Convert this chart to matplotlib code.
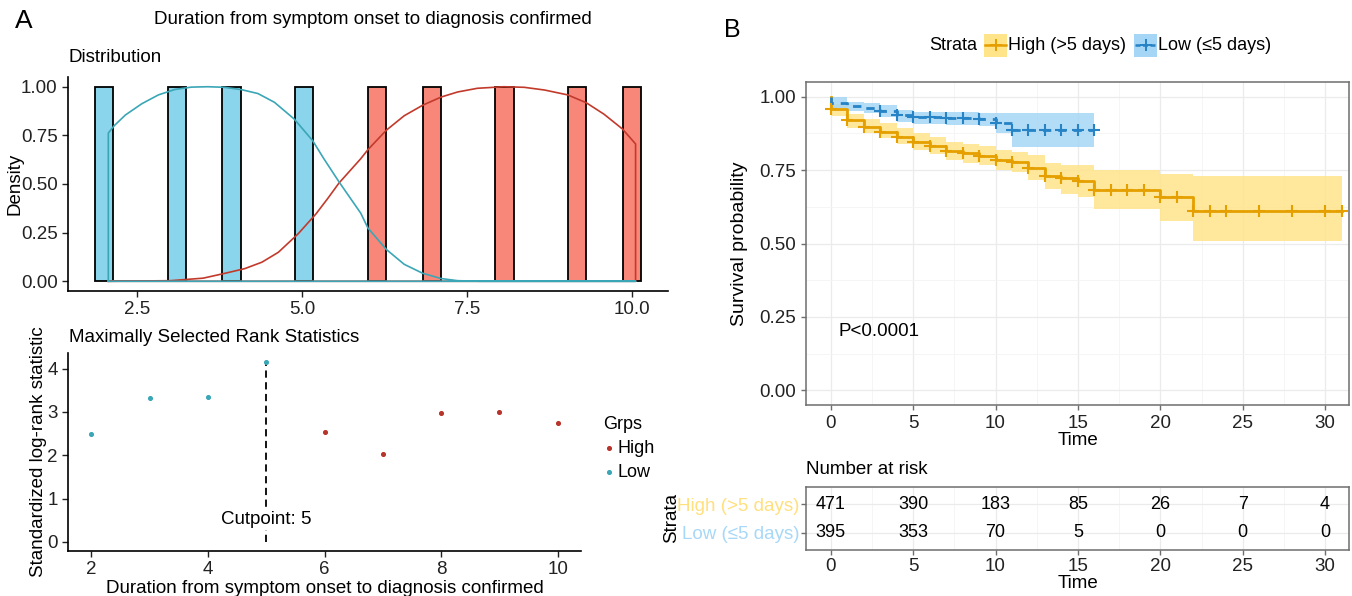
import numpy as np
import matplotlib
matplotlib.use("Agg")
import matplotlib.pyplot as plt
from matplotlib.patches import Rectangle
from matplotlib.lines import Line2D

plt.rcParams["font.family"] = ["Liberation Sans", "DejaVu Sans"]

# ---------------- data: panel A, distribution ----------------
bar_centers_low = [2.0, 3.10, 3.93, 5.03]
bar_centers_high = [6.14, 6.97, 8.07, 9.17, 10.0]
bar_height = [1.0]
bin_width = 0.276

low_dens_x = [2.06, 2.06, 2.15, 2.32, 2.57, 2.82, 3.07, 3.32, 3.57, 3.82, 4.08, 4.33,
              4.58, 4.88, 5.16, 5.33, 5.56, 5.89, 6.0, 6.28, 6.55, 6.83, 7.11, 7.36,
              7.7, 10.06, 2.06]
low_dens_y = [0.0, 0.762, 0.80, 0.855, 0.913, 0.958, 0.986, 0.998, 1.0, 0.997, 0.985,
              0.965, 0.92, 0.834, 0.723, 0.63, 0.511, 0.35, 0.273, 0.163, 0.087, 0.041,
              0.014, 0.003, 0.0, 0.0, 0.0]
high_dens_x = [2.06, 3.0, 3.5, 3.83, 4.13, 4.39, 4.64, 4.94, 5.21, 5.39, 5.56, 5.89,
               6.0, 6.28, 6.55, 6.83, 7.11, 7.36, 7.66, 8.06, 8.37, 8.68, 9.03, 9.31,
               9.58, 9.86, 10.06, 10.06, 2.06]
high_dens_y = [0.0, 0.003, 0.016, 0.041, 0.065, 0.098, 0.149, 0.244, 0.346, 0.426, 0.505,
               0.63, 0.677, 0.777, 0.851, 0.905, 0.947, 0.973, 0.992, 1.0, 0.997, 0.983,
               0.958, 0.918, 0.859, 0.783, 0.706, 0.0, 0.0]

# ---------------- data: panel A, maxstat ----------------
cut_x = [2, 3, 4, 5, 6, 7, 8, 9, 10]
cut_stat = [2.48, 3.32, 3.34, 4.15, 2.53, 2.02, 2.97, 2.99, 2.74]
cut_grp = ["Low", "Low", "Low", "Low", "High", "High", "High", "High", "High"]
cutpoint = 5

# ---------------- data: panel B, Kaplan-Meier ----------------
high_t = [0, 0, 1, 2, 3, 4, 5, 6, 7, 8, 9, 10, 11, 12, 13, 14, 15, 16, 20, 22, 31]
high_s = [1.0, 0.957, 0.920, 0.898, 0.881, 0.864, 0.847, 0.832, 0.815, 0.807, 0.798,
          0.786, 0.778, 0.756, 0.730, 0.722, 0.712, 0.682, 0.657, 0.611, 0.611]
high_up = [1.0, 0.975, 0.942, 0.923, 0.909, 0.892, 0.875, 0.864, 0.847, 0.839, 0.832,
           0.820, 0.812, 0.801, 0.773, 0.767, 0.767, 0.750, 0.736, 0.730, 0.730]
high_lo = [1.0, 0.935, 0.895, 0.875, 0.858, 0.839, 0.820, 0.805, 0.786, 0.775, 0.767,
           0.752, 0.744, 0.716, 0.684, 0.670, 0.659, 0.619, 0.577, 0.509, 0.509]
high_cens = list(range(0, 25)) + [26, 28, 30, 31]

low_t = [0, 0, 1, 2, 3, 4, 5, 7, 9, 10, 11, 16]
low_s = [1.0, 0.977, 0.968, 0.961, 0.952, 0.937, 0.932, 0.928, 0.925, 0.912, 0.888, 0.888]
low_up = [1.0, 1.0, 0.982, 0.978, 0.972, 0.955, 0.949, 0.947, 0.946, 0.945, 0.943, 0.943]
low_lo = [1.0, 0.962, 0.950, 0.943, 0.930, 0.915, 0.908, 0.904, 0.900, 0.875, 0.830, 0.830]
low_cens = list(range(3, 17))

risk_times = [0, 5, 10, 15, 20, 25, 30]
risk_high = [471, 390, 183, 85, 26, 7, 4]
risk_low = [395, 353, 70, 5, 0, 0, 0]

# ---------------- colours ----------------
C_LOW_BAR, C_HIGH_BAR = "#8AD4EC", "#F8877A"
C_LOW_LINE, C_HIGH_LINE = "#3AA6B6", "#C23A2B"
C_HIGH_KM, C_LOW_KM = "#E5A000", "#2683C6"
F_HIGH_KM, F_LOW_KM = "#FFE48A", "#A6D6F6"

W, H = 1352, 596
fig = plt.figure(figsize=(W / 100, H / 100), dpi=100)


def ax_at(x0, y0, x1, y1):
    return fig.add_axes([x0 / W, 1 - y1 / H, (x1 - x0) / W, (y1 - y0) / H])


def classic(ax):
    for s in ["top", "right"]:
        ax.spines[s].set_visible(False)
    for s in ["left", "bottom"]:
        ax.spines[s].set_linewidth(1.2)
    ax.tick_params(labelsize=13.5, length=4, width=1.0, colors="#222222")


# ---- A top: distribution ----
ax1 = ax_at(68, 77, 668, 291)
ax1.bar(bar_centers_low, bar_height * len(bar_centers_low), width=bin_width,
        color=C_LOW_BAR, edgecolor="black", linewidth=1.3, zorder=2)
ax1.bar(bar_centers_high, bar_height * len(bar_centers_high), width=bin_width,
        color=C_HIGH_BAR, edgecolor="black", linewidth=1.3, zorder=2)
ax1.plot(high_dens_x, high_dens_y, color=C_HIGH_LINE, lw=1.2, zorder=3)
ax1.plot(low_dens_x, low_dens_y, color=C_LOW_LINE, lw=1.2, zorder=4)
ax1.set_xlim(1.448, 10.552)
ax1.set_ylim(-0.05, 1.05)
ax1.set_xticks([2.5, 5.0, 7.5, 10.0])
ax1.set_xticklabels(["2.5", "5.0", "7.5", "10.0"])
ax1.set_yticks([0, 0.25, 0.5, 0.75, 1.0])
ax1.set_yticklabels(["0.00", "0.25", "0.50", "0.75", "1.00"])
ax1.set_ylabel("Density", fontsize=13.5, labelpad=-2)
classic(ax1)

# ---- A bottom: maxstat ----
ax2 = ax_at(68, 353, 581, 551)
xs_h = [x for x, g in zip(cut_x, cut_grp) if g == "High"]
ys_h = [y for y, g in zip(cut_stat, cut_grp) if g == "High"]
xs_l = [x for x, g in zip(cut_x, cut_grp) if g == "Low"]
ys_l = [y for y, g in zip(cut_stat, cut_grp) if g == "Low"]
ax2.scatter(xs_h, ys_h, s=7, color="#B8342A", label="High", zorder=3)
ax2.scatter(xs_l, ys_l, s=7, color=C_LOW_LINE, label="Low", zorder=3)
ax2.vlines(cutpoint, 0, max(cut_stat), colors="black", linestyles=(0, (4, 2.5)), lw=1.3)
ax2.text(cutpoint, 0.52, "Cutpoint: 5", ha="center", va="center", fontsize=13.5,
         bbox=dict(facecolor="white", edgecolor="none", pad=1.5), zorder=4)
ax2.set_xlim(1.6, 10.4)
ax2.set_ylim(-0.21, 4.36)
ax2.set_xticks([2, 4, 6, 8, 10])
ax2.set_yticks([0, 1, 2, 3, 4])
ax2.set_xlabel("Duration from symptom onset to diagnosis confirmed", fontsize=13.5, labelpad=1)
ax2.set_ylabel("Standardized log-rank statistic", fontsize=13.5, labelpad=0)
classic(ax2)
leg = ax2.legend(title="Grps", loc="upper left", bbox_to_anchor=(1.03, 0.72),
                 frameon=False, fontsize=13, title_fontsize=13, handletextpad=0.15,
                 handlelength=0.6, markerscale=1.0, labelspacing=0.4, borderaxespad=0)
leg._legend_box.align = "left"

fig.text(24 / W, 1 - 21 / H, "A", fontsize=19, ha="center", va="center")
fig.text(373 / W, 1 - 20 / H, "Duration from symptom onset to diagnosis confirmed",
         fontsize=13.5, ha="center", va="center")
fig.text(69 / W, 1 - 58 / H, "Distribution", fontsize=13.5, ha="left", va="center")
fig.text(69 / W, 1 - 337 / H, "Maximally Selected Rank Statistics", fontsize=13.5,
         ha="left", va="center")


# ---- B: Kaplan-Meier ----
def surv_at(t, times, surv):
    i = np.searchsorted(times, t, side="right") - 1
    return np.asarray(surv)[i]


BORDER = "#6E6E6E"
axB = ax_at(806, 82, 1349, 405)
axB.fill_between(high_t, high_lo, high_up, step="post", color=F_HIGH_KM, alpha=0.85,
                 lw=0, zorder=1)
axB.fill_between(low_t, low_lo, low_up, step="post", color=F_LOW_KM, alpha=0.85,
                 lw=0, zorder=1)
axB.step(high_t, high_s, where="post", color=C_HIGH_KM, lw=2.0, zorder=3)
axB.step(low_t, low_s, where="post", color=C_LOW_KM, lw=2.0, ls=(0, (3, 2.5)), zorder=3)
axB.plot(high_cens, surv_at(high_cens, high_t, high_s), "+", color=C_HIGH_KM, ms=8,
         mew=1.5, zorder=4)
axB.plot(low_cens, surv_at(low_cens, low_t, low_s), "+", color=C_LOW_KM, ms=8,
         mew=1.5, zorder=4)
axB.text(0.45, 0.20, "P<0.0001", fontsize=13.5, ha="left", va="center")
axB.set_xlim(-1.5, 31.45)
axB.set_ylim(-0.05, 1.05)
axB.set_xticks(risk_times)
axB.set_xticks(np.arange(2.5, 31, 5), minor=True)
axB.set_yticks([0, 0.25, 0.5, 0.75, 1.0])
axB.set_yticks([0.125, 0.375, 0.625, 0.875], minor=True)
axB.set_yticklabels(["0.00", "0.25", "0.50", "0.75", "1.00"])
axB.grid(which="major", color="#EBEBEB", lw=0.9, zorder=0)
axB.grid(which="minor", color="#F4F4F4", lw=0.6, zorder=0)
axB.set_axisbelow(True)
axB.set_xlabel("Time", fontsize=13.5, labelpad=0)
axB.set_ylabel("Survival probability", fontsize=14, labelpad=8)
for s in axB.spines.values():
    s.set_color(BORDER)
    s.set_linewidth(1.1)
axB.tick_params(which="major", labelsize=13.5, length=3.5, width=1.0, color=BORDER,
                labelcolor="#222222")
axB.tick_params(which="minor", length=0)

fig.text(732 / W, 1 - 30 / H, "B", fontsize=18, ha="center", va="center")

# legend drawn on top of panel B
ly = 1 - 45 / H
fig.text(929 / W, ly, "Strata", fontsize=13, ha="left", va="center")
for x0, fc, lc, ls, lab in [(984, F_HIGH_KM, C_HIGH_KM, "-", "High (>5 days)"),
                            (1134, F_LOW_KM, C_LOW_KM, (0, (2, 1)), "Low (\u22645 days)")]:
    fig.patches.append(Rectangle((x0 / W, 1 - 57 / H), 23 / W, 23 / H, transform=fig.transFigure,
                                 facecolor=fc, edgecolor="none"))
    fig.lines.append(Line2D([(x0 + 1) / W, (x0 + 22) / W], [ly, ly], transform=fig.transFigure,
                            color=lc, lw=1.8, ls=ls))
    fig.lines.append(Line2D([(x0 + 11.5) / W], [ly], transform=fig.transFigure, marker="+",
                            ms=8, mew=1.4, color=lc))
    fig.text((x0 + 24) / W, ly, lab, fontsize=13, ha="left", va="center")

# ---- B: risk table ----
axT = ax_at(806, 487, 1349, 550)
for t, n in zip(risk_times, risk_high):
    axT.text(t, 2, str(n), ha="center", va="center", fontsize=13)
for t, n in zip(risk_times, risk_low):
    axT.text(t, 1, str(n), ha="center", va="center", fontsize=13)
axT.set_xlim(-1.5, 31.45)
axT.set_ylim(0.4, 2.6)
axT.set_xticks(risk_times)
axT.set_xticks(np.arange(2.5, 31, 5), minor=True)
axT.set_yticks([1, 2])
axT.set_yticklabels(["Low (\u22645 days)", "High (>5 days)"])
axT.grid(which="major", axis="both", color="#EBEBEB", lw=0.9)
axT.grid(which="minor", axis="x", color="#F4F4F4", lw=0.6)
axT.set_axisbelow(True)
for s in axT.spines.values():
    s.set_color(BORDER)
    s.set_linewidth(1.1)
axT.tick_params(which="major", labelsize=13.5, length=3.5, width=1.0, color=BORDER,
                labelcolor="#222222", pad=2)
axT.tick_params(axis="y", labelsize=13.5, pad=1)
axT.tick_params(which="minor", length=0)
axT.get_yticklabels()[0].set_color("#A8D8F8")
axT.get_yticklabels()[1].set_color("#FFE07F")
axT.set_xlabel("Time", fontsize=13.5, labelpad=0)
fig.text(672 / W, 1 - 518 / H, "Strata", fontsize=13.5, rotation=90, ha="center", va="center")
fig.text(806 / W, 1 - 469 / H, "Number at risk", fontsize=13.5, ha="left", va="center")

fig.savefig("out.png", dpi=100)
